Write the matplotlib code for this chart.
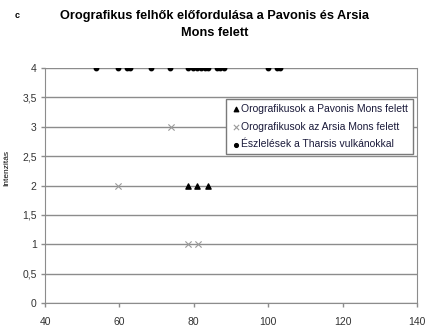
import matplotlib
matplotlib.use("Agg")
import matplotlib.pyplot as plt
from matplotlib.ticker import FuncFormatter

plt.rcParams['font.family'] = ['Liberation Sans', 'DejaVu Sans']

title = "Orografikus felhők előfordulása a Pavonis és Arsia\nMons felett"
ylabel = "Intenzitás"
pavonis_x = [78.5, 80.8, 83.9]
pavonis_y = [2, 2, 2]
arsia_x = [73.8, 59.7, 78.5, 81.2]
arsia_y = [3, 2, 1, 1]
tharsis_x = [53.6, 59.7, 62.0, 62.8, 68.5, 73.6, 78.5, 79.7, 80.8, 81.9,
             83.0, 83.9, 86.2, 87.0, 88.1, 100.0, 102.3, 103.2]
tharsis_y = [4] * len(tharsis_x)
labels = ["Orografikusok a Pavonis Mons felett",
          "Orografikusok az Arsia Mons felett",
          "Észlelések a Tharsis vulkánokkal"]

fig = plt.figure(figsize=(4.25, 3.27), dpi=100)
ax = fig.add_axes([45/425, 24/327, 372/425, 235/327])

ax.set_xlim(40, 140)
ax.set_ylim(0, 4)
ax.set_yticks([0, 0.5, 1, 1.5, 2, 2.5, 3, 3.5, 4])
ax.set_xticks([40, 60, 80, 100, 120, 140])
ax.yaxis.set_major_formatter(FuncFormatter(lambda v, p: ("%g" % v).replace(".", ",")))
ax.grid(axis='y', color='#8c8c8c', linewidth=1.0)
ax.set_axisbelow(True)
for s in ax.spines.values():
    s.set_color('#8c8c8c')
ax.spines['top'].set_visible(False)
ax.tick_params(axis='both', labelsize=7.5, color='#8c8c8c', labelcolor='#333333',
               length=3, width=1)
ax.tick_params(axis='x', pad=7)
ax.tick_params(axis='y', pad=3)

ax.scatter(pavonis_x, pavonis_y, marker='^', s=14, color='black', label=labels[0], zorder=3)
ax.scatter(arsia_x, arsia_y, marker='x', s=20, color='#9a9a9a', linewidths=0.8, label=labels[1], zorder=3)
ax.scatter(tharsis_x, tharsis_y, marker='o', s=10, color='black', label=labels[2], zorder=3)

ax.set_ylabel(ylabel, fontsize=6)
ax.yaxis.set_label_coords(-0.093, 0.574)

leg = ax.legend(loc='upper right', bbox_to_anchor=(0.989, 0.868), fontsize=7.5, frameon=True,
                fancybox=False, edgecolor='#7a7a7a', framealpha=1, handletextpad=0.1,
                borderpad=0.45, labelspacing=0.75, handlelength=0.9, markerscale=0.85,
                borderaxespad=0)
leg.get_frame().set_linewidth(1.0)
for t in leg.get_texts():
    t.set_color('#1a1a3a')

fig.text(0.504, 0.968, title, ha='center', va='top', fontsize=9.2, fontweight='bold',
         linespacing=1.55)
fig.text(0.04, 0.965, "c", ha='center', va='top', fontsize=6.5, fontweight='bold')

fig.savefig("out.png", dpi=100)
